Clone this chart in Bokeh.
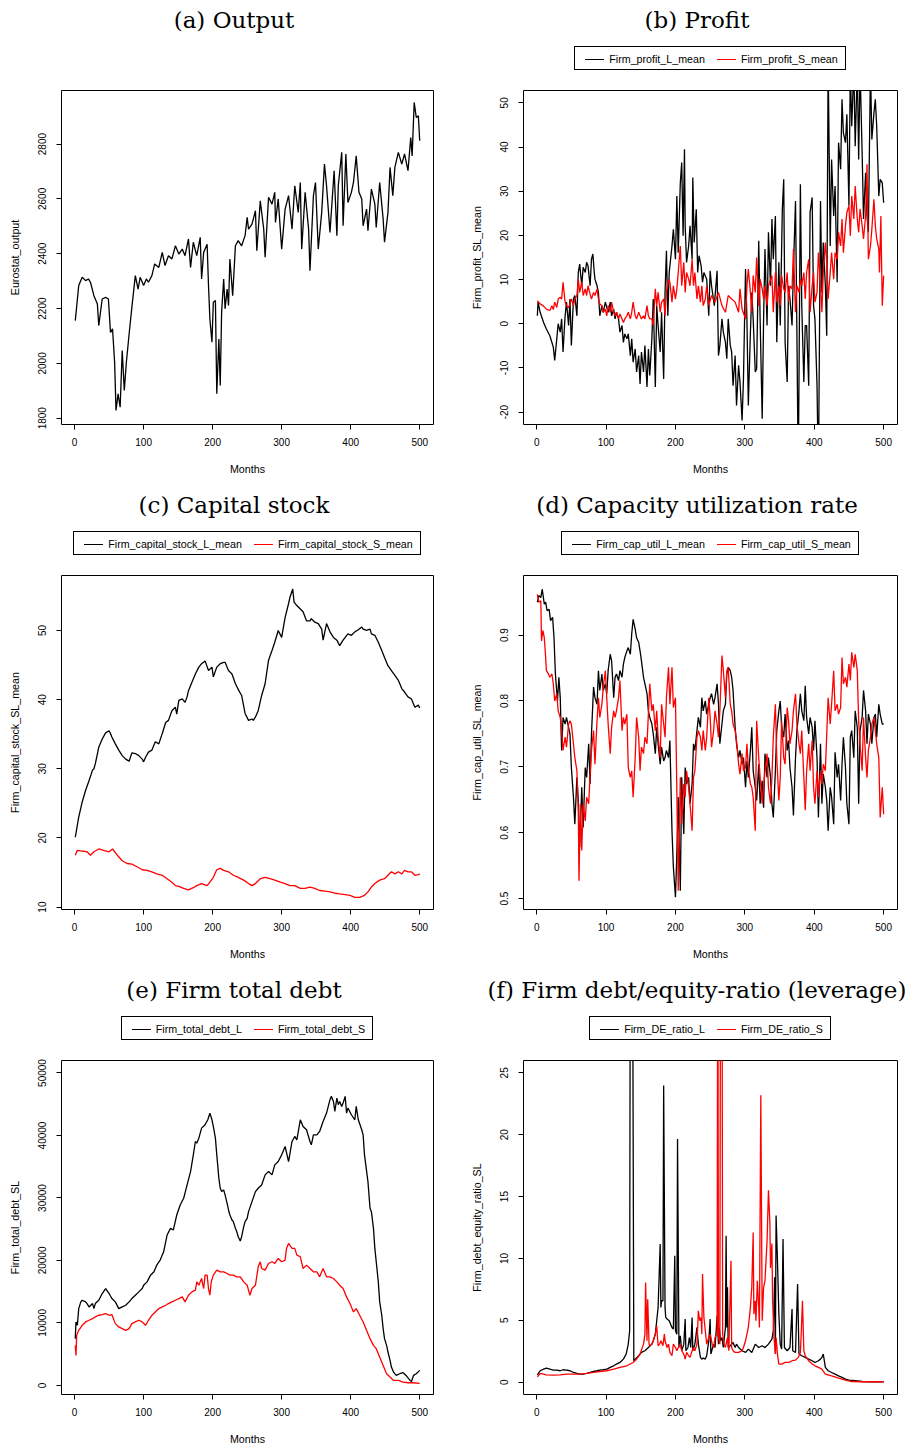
from bokeh.plotting import figure
from bokeh.layouts import row, column
from bokeh.models import Range1d, FixedTicker, NumeralTickFormatter, ColumnDataSource, Div
from bokeh.embed import file_html
from bokeh.resources import INLINE

# ---------------- data (month, value) ----------------
X_TICKS = [0, 100, 200, 300, 400, 500]

output_pts = [(1,2156),(6,2284),(11,2314),(16,2302),(20,2308),(23,2296),(28,2247),(33,2217),(35,2138),(40,2235),(45,2241),(49,2235),(52,2113),(55,2126),(58,2004),(60,1828),(63,1889),(66,1840),(69,2047),(72,1901),(75,2004),(79,2107),(83,2205),(88,2320),(92,2271),(95,2314),(100,2284),(104,2308),(107,2296),(112,2320),(116,2363),(122,2350),(127,2405),(131,2357),(136,2393),(141,2381),(146,2429),(151,2399),(156,2417),(160,2393),(165,2454),(168,2350),(172,2442),(177,2393),(182,2460),(184,2308),(187,2405),(192,2435),(194,2284),(196,2162),(199,2077),(201,2223),(204,2229),(206,1889),(209,2089),(211,1919),(213,2186),(216,2308),(218,2199),(221,2271),(223,2211),(225,2381),(229,2247),(233,2429),(237,2448),(242,2429),(247,2466),(250,2533),(252,2490),(257,2508),(262,2557),(264,2411),(269,2593),(274,2490),(276,2387),(281,2606),(286,2581),(290,2624),(291,2514),(295,2600),(300,2417),(305,2563),(310,2612),(315,2490),(319,2648),(324,2551),(327,2660),(329,2417),(334,2624),(339,2490),(341,2338),(346,2612),(349,2660),(353,2417),(358,2551),(362,2727),(365,2648),(370,2478),(376,2703),(380,2466),(382,2648),(387,2770),(389,2502),(393,2764),(396,2587),(401,2624),(404,2660),(408,2757),(412,2624),(416,2600),(418,2502),(423,2563),(425,2484),(430,2636),(435,2581),(437,2496),(442,2660),(447,2527),(449,2442),(454,2551),(457,2715),(461,2612),(464,2715),(469,2770),(474,2727),(478,2764),(483,2703),(487,2824),(489,2757),(492,2952),(495,2897),(498,2903),(500,2812)]

profit_L_pts = [(1,1.8),(2,4.9),(5,2.6),(10,0.3),(14,-1.2),(19,-2.7),(24,-5.3),(26,-8.3),(29,-3.4),(31,0.0),(34,-1.9),(36,1.1),(38,-6.4),(41,1.8),(43,4.9),(46,-0.4),(48,5.6),(50,-4.9),(53,5.6),(55,6.4),(58,1.8),(60,11.6),(62,13.5),(65,8.6),(67,12.8),(70,11.6),(72,13.9),(74,13.1),(77,8.6),(79,14.6),(81,15.8),(83,11.6),(84,10.1),(87,8.6),(89,7.1),(91,1.8),(94,4.1),(96,2.6),(99,4.9),(101,3.7),(103,2.6),(106,4.9),(108,1.8),(111,3.3),(113,1.1),(115,2.6),(118,1.1),(120,-1.9),(123,-0.4),(125,-4.2),(127,-2.3),(130,-3.4),(132,-2.3),(135,-7.2),(137,-3.4),(139,-8.7),(142,-5.7),(144,-10.9),(147,-7.2),(149,-13.6),(151,-6.4),(154,-10.9),(156,-4.9),(159,-14.3),(161,-5.7),(163,-11.7),(166,-3.4),(168,5.6),(171,-14.3),(173,4.1),(175,-0.4),(178,-6.4),(180,2.6),(183,-12.5),(185,7.1),(187,16.5),(189,1.8),(191,11.6),(195,17.6),(197,21.4),(200,14.6),(202,28.9),(204,16.1),(207,31.9),(209,36.5),(211,19.9),(213,39.5),(214,22.2),(216,13.9),(219,17.6),(221,22.2),(224,14.6),(225,33.1),(227,18.4),(230,25.9),(232,11.6),(234,15.4),(237,13.1),(239,9.4),(241,11.6),(245,10.1),(248,1.8),(250,12.0),(252,8.6),(256,4.1),(260,12.0),(262,-7.2),(264,-4.9),(267,1.1),(269,-1.9),(272,-4.2),(274,-7.9),(276,1.1),(279,-4.9),(281,-6.4),(283,-14.0),(286,-7.2),(288,-18.5),(291,-9.4),(293,-13.2),(296,-21.9),(298,-12.5),(301,12.4),(303,1.1),(305,-18.5),(308,-1.9),(310,7.1),(312,1.1),(315,-10.9),(317,-10.2),(320,18.8),(322,1.1),(325,-21.5),(327,1.1),(329,16.9),(332,-0.4),(334,20.7),(337,8.6),(339,23.7),(341,14.6),(344,24.4),(346,-4.2),(349,13.9),(351,-0.4),(354,25.9),(356,32.7),(358,-4.2),(361,-13.2),(363,8.6),(365,5.6),(368,-0.4),(370,12.4),(373,27.8),(375,-1.9),(377,-35.0),(380,31.6),(382,4.1),(385,-13.2),(387,-0.4),(389,-0.4),(392,-14.0),(394,25.2),(397,28.6),(399,4.1),(401,1.1),(404,-14.0),(406,-35.0),(409,27.8),(411,7.1),(413,18.4),(416,8.6),(418,-2.7),(420,60.0),(423,17.6),(425,37.2),(428,24.4),(430,31.2),(433,9.4),(435,41.0),(438,35.0),(440,50.8),(442,43.2),(445,41.0),(447,47.4),(450,26.7),(452,58.0),(454,44.7),(457,58.0),(459,40.2),(462,58.0),(464,37.2),(466,58.0),(469,38.7),(471,23.7),(474,34.2),(476,24.4),(478,20.7),(481,58.0),(483,41.7),(486,47.7),(488,50.8),(490,44.7),(493,28.9),(495,32.7),(498,31.9),(500,27.4)]

profit_S_pts = [(1,5.2),(5,4.5),(10,4.0),(14,3.3),(19,3.0),(22,4.1),(24,3.2),(26,4.9),(29,3.7),(31,5.6),(34,6.0),(36,5.6),(38,9.4),(41,4.9),(43,4.1),(46,3.7),(48,4.5),(50,5.6),(53,4.1),(55,5.6),(58,6.4),(60,10.1),(62,7.1),(65,9.4),(67,6.4),(70,7.9),(72,6.4),(74,8.6),(77,6.7),(79,5.6),(82,7.1),(84,6.4),(87,7.9),(89,5.6),(91,4.5),(94,4.1),(96,2.6),(99,3.3),(101,1.8),(103,4.1),(106,2.6),(108,4.9),(111,2.6),(113,1.8),(115,2.6),(118,1.1),(120,2.2),(123,1.1),(125,0.3),(127,1.1),(130,1.8),(132,2.6),(135,1.1),(137,2.6),(139,4.9),(142,1.8),(144,1.1),(147,2.6),(149,1.8),(151,1.1),(154,1.8),(156,1.1),(159,4.1),(161,1.8),(163,1.1),(166,1.1),(168,-0.4),(171,7.9),(173,4.1),(175,7.1),(178,2.6),(180,4.9),(183,5.6),(185,1.8),(187,7.1),(190,10.1),(192,9.4),(195,4.9),(197,8.6),(200,5.6),(202,7.9),(204,11.6),(207,17.6),(209,8.6),(212,13.9),(214,7.1),(216,11.6),(219,10.1),(221,8.6),(224,14.6),(226,8.6),(228,11.6),(231,5.6),(233,8.6),(236,4.9),(238,8.6),(240,4.1),(243,5.6),(245,8.6),(248,4.1),(252,6.4),(257,4.9),(262,7.1),(267,4.1),(272,2.6),(276,6.4),(281,5.6),(286,4.9),(291,2.6),(293,7.9),(296,3.3),(301,1.1),(303,8.6),(305,12.4),(308,7.1),(310,2.6),(312,10.9),(315,7.1),(317,15.0),(320,4.1),(322,10.1),(325,7.9),(327,5.6),(329,8.6),(332,4.1),(334,8.6),(339,10.9),(341,2.6),(344,11.6),(346,4.9),(349,8.6),(351,4.1),(353,10.9),(356,7.9),(358,7.1),(361,11.6),(363,4.9),(365,8.6),(368,7.9),(370,16.9),(373,2.6),(375,8.6),(378,7.1),(380,10.1),(382,8.6),(385,11.6),(387,5.6),(389,11.6),(392,14.6),(394,2.6),(397,8.6),(399,11.6),(401,4.9),(404,7.1),(406,16.1),(409,8.6),(411,2.6),(413,11.6),(416,18.4),(418,13.9),(420,5.6),(423,11.6),(425,16.1),(428,10.1),(430,16.1),(433,14.6),(435,20.7),(438,17.6),(440,23.7),(442,16.1),(445,22.2),(447,25.2),(450,26.7),(452,19.9),(454,28.9),(457,23.7),(459,31.2),(462,23.7),(464,20.7),(466,26.0),(469,22.2),(471,19.2),(474,24.4),(476,36.1),(478,14.6),(481,17.6),(483,21.4),(486,28.2),(488,22.2),(490,19.2),(493,16.9),(494,11.6),(496,24.4),(498,4.1),(500,10.9)]

capital_L_pts = [(1,20.1),(6,23.0),(11,25.2),(16,26.9),(21,28.3),(26,29.8),(28,30.0),(30,30.7),(35,33.1),(40,34.3),(45,35.2),(50,35.5),(52,35.1),(54,34.6),(59,33.6),(64,32.7),(69,31.9),(74,31.4),(79,31.1),(83,32.3),(88,32.2),(93,31.9),(98,31.4),(100,31.0),(103,31.7),(107,32.4),(112,32.7),(117,33.9),(122,33.6),(127,35.1),(132,36.7),(136,37.0),(141,38.4),(146,38.9),(148,37.9),(151,39.9),(156,40.1),(160,39.6),(163,40.4),(165,41.3),(170,42.5),(175,43.7),(180,44.7),(184,45.2),(189,45.6),(194,44.2),(199,44.7),(201,43.3),(206,44.7),(211,45.2),(216,45.4),(218,45.4),(223,44.2),(228,43.7),(233,42.3),(238,41.3),(242,40.6),(247,38.0),(252,37.0),(257,37.2),(259,37.0),(262,37.5),(266,38.4),(271,40.6),(276,42.3),(281,45.7),(286,47.1),(290,48.3),(295,50.0),(300,49.0),(305,51.9),(310,53.9),(312,54.8),(316,56.0),(318,54.1),(322,53.6),(327,53.1),(331,52.7),(336,51.4),(341,51.4),(343,51.7),(348,51.2),(353,51.0),(358,50.2),(360,48.6),(365,51.0),(370,49.8),(375,49.0),(380,48.6),(384,47.8),(389,48.6),(396,49.5),(401,49.3),(406,49.8),(411,50.1),(416,50.5),(418,50.2),(423,50.0),(428,50.2),(430,49.5),(435,49.3),(440,48.3),(445,47.1),(449,46.1),(454,44.9),(459,44.2),(464,43.5),(469,42.8),(474,41.6),(478,41.1),(483,40.4),(488,40.1),(493,38.9),(498,39.2),(500,38.8)]

capital_S_pts = [(1,17.5),(4,18.2),(11,18.1),(18,18.0),(23,17.5),(28,18.0),(35,18.4),(42,18.2),(50,18.0),(55,18.4),(62,17.5),(69,16.7),(76,16.3),(83,16.2),(91,15.8),(98,15.4),(105,15.3),(112,15.1),(119,14.8),(127,14.6),(134,14.1),(141,13.6),(146,13.1),(151,13.0),(158,12.7),(165,12.5),(172,12.8),(177,13.1),(184,13.4),(192,13.1),(196,13.6),(201,14.3),(206,15.4),(211,15.6),(216,15.3),(223,15.1),(230,14.6),(237,14.3),(245,13.9),(252,13.4),(257,13.1),(262,13.4),(269,14.1),(276,14.3),(283,14.1),(290,13.9),(298,13.6),(305,13.4),(312,13.1),(319,13.1),(327,12.7),(334,12.7),(341,12.9),(348,12.7),(355,12.4),(363,12.3),(370,12.2),(377,12.0),(384,11.9),(392,11.8),(399,11.7),(406,11.4),(413,11.4),(420,11.7),(425,12.2),(430,12.9),(435,13.4),(442,13.9),(449,14.1),(454,14.6),(459,15.1),(464,14.8),(469,15.1),(474,14.8),(478,15.3),(483,15.1),(488,15.1),(493,14.6),(498,14.7),(500,14.8)]

caputil_L_pts = [(1,0.950),(3,0.960),(6,0.957),(8,0.970),(11,0.947),(13,0.950),(15,0.937),(18,0.939),(20,0.922),(23,0.927),(25,0.896),(27,0.841),(30,0.800),(32,0.836),(34,0.805),(36,0.725),(38,0.775),(41,0.765),(43,0.775),(46,0.760),(48,0.750),(50,0.699),(53,0.654),(55,0.613),(58,0.684),(60,0.649),(62,0.578),(65,0.669),(67,0.608),(70,0.699),(72,0.684),(75,0.735),(77,0.674),(79,0.750),(82,0.821),(84,0.805),(87,0.795),(89,0.846),(91,0.816),(94,0.841),(96,0.816),(99,0.826),(101,0.811),(103,0.846),(106,0.871),(108,0.861),(111,0.805),(113,0.836),(115,0.841),(118,0.831),(120,0.846),(123,0.836),(125,0.856),(127,0.866),(130,0.876),(132,0.881),(135,0.871),(137,0.902),(139,0.924),(142,0.909),(144,0.896),(147,0.889),(149,0.876),(151,0.861),(154,0.836),(156,0.826),(159,0.811),(161,0.785),(163,0.775),(166,0.765),(168,0.750),(171,0.720),(173,0.760),(175,0.735),(178,0.704),(180,0.730),(183,0.709),(185,0.714),(187,0.725),(190,0.714),(192,0.740),(195,0.603),(197,0.548),(200,0.502),(202,0.568),(204,0.654),(207,0.512),(209,0.684),(212,0.598),(214,0.699),(216,0.674),(219,0.684),(221,0.644),(224,0.674),(226,0.735),(228,0.725),(231,0.755),(233,0.775),(236,0.760),(238,0.805),(240,0.785),(243,0.800),(245,0.780),(248,0.795),(250,0.805),(252,0.811),(255,0.795),(257,0.805),(260,0.826),(262,0.795),(264,0.735),(267,0.765),(269,0.785),(272,0.795),(274,0.841),(276,0.851),(279,0.846),(281,0.836),(283,0.816),(286,0.760),(288,0.735),(291,0.714),(293,0.725),(296,0.704),(298,0.714),(301,0.669),(303,0.709),(305,0.684),(308,0.725),(310,0.760),(312,0.694),(315,0.669),(317,0.649),(320,0.704),(322,0.644),(325,0.679),(327,0.638),(329,0.720),(332,0.684),(334,0.714),(337,0.684),(339,0.644),(341,0.623),(344,0.694),(346,0.755),(349,0.785),(351,0.800),(353,0.760),(356,0.745),(358,0.780),(361,0.725),(363,0.740),(365,0.699),(368,0.669),(370,0.626),(373,0.714),(375,0.755),(378,0.785),(380,0.811),(382,0.785),(385,0.770),(387,0.823),(389,0.775),(392,0.750),(394,0.775),(397,0.760),(399,0.725),(401,0.770),(404,0.714),(406,0.623),(409,0.735),(411,0.644),(413,0.689),(416,0.669),(418,0.649),(420,0.603),(423,0.669),(425,0.654),(428,0.613),(430,0.722),(433,0.684),(435,0.704),(438,0.649),(440,0.704),(442,0.745),(445,0.699),(447,0.644),(450,0.613),(452,0.745),(454,0.755),(457,0.714),(459,0.785),(462,0.760),(464,0.644),(466,0.755),(469,0.775),(471,0.816),(474,0.785),(476,0.735),(478,0.780),(481,0.765),(483,0.735),(486,0.775),(488,0.780),(490,0.745),(493,0.795),(495,0.780),(498,0.765),(500,0.765)]

caputil_S_pts = [(1,0.962),(3,0.950),(6,0.952),(7,0.891),(9,0.907),(11,0.896),(13,0.866),(14,0.846),(17,0.841),(19,0.836),(22,0.841),(24,0.826),(26,0.800),(29,0.811),(31,0.785),(34,0.775),(36,0.755),(38,0.725),(41,0.745),(43,0.730),(46,0.765),(48,0.770),(50,0.765),(53,0.735),(55,0.714),(58,0.694),(60,0.634),(61,0.527),(63,0.644),(65,0.573),(67,0.644),(70,0.618),(72,0.654),(75,0.644),(77,0.689),(79,0.725),(82,0.755),(84,0.704),(87,0.770),(89,0.805),(91,0.775),(94,0.795),(96,0.821),(99,0.846),(101,0.805),(103,0.765),(106,0.720),(108,0.760),(111,0.785),(113,0.775),(115,0.785),(118,0.805),(120,0.831),(123,0.755),(125,0.775),(127,0.765),(130,0.780),(132,0.699),(135,0.684),(137,0.694),(139,0.654),(142,0.714),(144,0.775),(147,0.745),(149,0.694),(151,0.730),(154,0.720),(156,0.745),(159,0.735),(161,0.780),(163,0.826),(166,0.785),(168,0.795),(171,0.755),(173,0.785),(175,0.745),(178,0.714),(180,0.795),(183,0.765),(185,0.745),(187,0.805),(190,0.851),(192,0.795),(195,0.851),(197,0.790),(200,0.805),(202,0.664),(204,0.512),(207,0.684),(209,0.613),(212,0.674),(214,0.654),(216,0.694),(219,0.669),(221,0.644),(224,0.603),(226,0.684),(228,0.694),(231,0.745),(233,0.755),(236,0.745),(238,0.725),(240,0.755),(243,0.725),(245,0.745),(248,0.805),(250,0.775),(252,0.730),(255,0.755),(257,0.785),(260,0.765),(262,0.745),(264,0.785),(267,0.869),(269,0.846),(272,0.805),(274,0.846),(276,0.851),(279,0.795),(281,0.785),(283,0.765),(286,0.755),(288,0.740),(291,0.704),(293,0.689),(296,0.720),(298,0.694),(301,0.699),(303,0.735),(305,0.699),(308,0.674),(310,0.669),(312,0.654),(315,0.603),(317,0.770),(320,0.714),(322,0.684),(325,0.644),(327,0.669),(329,0.694),(332,0.720),(334,0.669),(337,0.644),(339,0.684),(341,0.745),(344,0.795),(346,0.714),(349,0.649),(351,0.684),(353,0.770),(356,0.714),(358,0.704),(361,0.790),(363,0.770),(365,0.735),(368,0.755),(370,0.785),(373,0.811),(375,0.765),(378,0.735),(380,0.720),(382,0.755),(385,0.684),(387,0.634),(389,0.694),(392,0.735),(394,0.694),(397,0.740),(399,0.669),(401,0.644),(404,0.694),(406,0.654),(409,0.694),(411,0.674),(413,0.704),(416,0.694),(418,0.750),(420,0.805),(423,0.765),(425,0.795),(428,0.846),(430,0.785),(433,0.795),(435,0.780),(438,0.790),(440,0.866),(442,0.826),(445,0.836),(447,0.821),(450,0.856),(452,0.831),(454,0.874),(457,0.851),(459,0.871),(462,0.846),(464,0.770),(466,0.735),(469,0.694),(471,0.775),(474,0.714),(476,0.684),(478,0.725),(481,0.745),(483,0.765),(486,0.775),(488,0.755),(490,0.735),(493,0.714),(495,0.623),(498,0.669),(500,0.628)]

debt_L_pts = [(1,7487),(2,10161),(4,9626),(6,12300),(9,13370),(11,13637),(16,13370),(18,13102),(21,12567),(26,13102),(28,12300),(30,13102),(35,13637),(40,14707),(45,15509),(50,14707),(54,13905),(59,13370),(64,12300),(69,12567),(74,12835),(79,13370),(83,13905),(88,14440),(93,14974),(98,15509),(100,16044),(105,16578),(110,17648),(115,18183),(119,19253),(124,20055),(129,21392),(134,24066),(139,25136),(143,24868),(148,27275),(153,28879),(158,29949),(163,32088),(168,34227),(172,36901),(175,39040),(177,38773),(180,39575),(184,41180),(189,41714),(193,42517),(196,43586),(199,42517),(201,41447),(204,39575),(206,36901),(209,33158),(211,31553),(213,31018),(216,31286),(218,30484),(221,29147),(223,28077),(225,27275),(228,26473),(230,26205),(233,25136),(235,24601),(237,23799),(240,23104),(242,23799),(245,25403),(247,26205),(250,26740),(252,27810),(257,29414),(262,31018),(266,31553),(271,32088),(276,33692),(281,34227),(286,33692),(290,35297),(295,35832),(300,36901),(305,38238),(310,35832),(315,39040),(319,39843),(322,39308),(327,42517),(331,41447),(336,40912),(341,39040),(343,38505),(346,40110),(351,40110),(355,40645),(360,42249),(365,43586),(370,45725),(372,46260),(375,45458),(377,43854),(380,45993),(382,44923),(384,45458),(387,44656),(389,45191),(392,46260),(394,43586),(396,44388),(401,43319),(406,42517),(408,44656),(411,42517),(416,40912),(418,40110),(420,36901),(425,32623),(428,28344),(430,27810),(433,25136),(435,21927),(437,19788),(440,16578),(442,13370),(445,11231),(447,9092),(449,7487),(452,6418),(454,5348),(457,4011),(459,2941),(462,2139),(466,1604),(471,1872),(476,2032),(481,1497),(486,802),(488,642),(491,1604),(495,1872),(500,2407)]

debt_S_pts = [(1,6418),(2,4813),(3,8022),(6,8824),(11,9626),(16,10161),(21,10429),(26,10696),(30,10963),(35,11231),(40,11338),(45,11498),(50,11231),(54,11338),(59,9894),(64,9359),(69,9092),(74,8824),(79,9092),(83,9894),(88,10161),(93,10429),(98,10161),(103,9626),(107,10429),(112,11231),(117,11766),(122,12300),(127,12567),(132,12835),(136,13102),(141,13370),(146,13637),(151,13905),(156,14172),(160,13370),(165,14440),(170,14974),(175,15242),(177,16578),(180,16044),(184,17113),(187,15509),(189,17648),(192,17648),(194,15509),(196,14440),(198,16578),(201,17648),(206,18450),(211,18183),(216,18183),(221,17915),(225,17648),(230,17648),(235,17381),(240,17381),(245,16578),(250,16044),(254,14440),(257,15509),(262,16044),(266,18985),(269,19788),(271,18718),(276,18450),(281,19520),(286,19788),(290,19520),(295,20322),(300,19788),(305,20055),(307,21927),(310,22729),(315,21927),(319,21927),(322,20857),(327,20590),(331,18718),(336,19253),(341,18718),(346,18183),(351,18183),(355,17381),(360,18718),(365,17381),(370,17381),(375,17113),(380,16578),(384,16044),(389,15509),(394,14172),(399,13102),(404,11766),(408,12300),(413,11231),(418,10161),(423,8824),(428,7487),(433,6418),(437,5883),(442,4546),(447,3209),(452,1872),(457,1337),(462,802),(469,802),(476,535),(483,428),(491,428),(500,321)]

de_L_pts = [(1,0.59),(5,0.92),(10,1.05),(14,1.13),(19,1.05),(24,0.97),(29,0.97),(34,0.92),(38,1.0),(43,0.97),(48,0.92),(53,0.78),(58,0.70),(62,0.65),(67,0.65),(72,0.70),(77,0.78),(82,0.86),(87,0.92),(91,0.97),(96,1.0),(101,1.05),(106,1.19),(111,1.32),(115,1.46),(120,1.59),(125,1.86),(129,2.27),(132,3.07),(134,4.15),(135,40.0),(138,40.0),(140,1.73),(142,1.86),(147,2.13),(151,2.40),(156,2.54),(161,2.80),(166,3.07),(168,3.34),(171,3.88),(173,4.96),(175,6.04),(178,11.17),(179,6.04),(180,6.58),(182,6.58),(183,23.98),(185,6.04),(186,5.23),(188,5.10),(191,4.96),(195,4.42),(197,4.29),(199,10.22),(200,4.15),(202,3.88),(203,19.66),(205,2.80),(207,3.75),(209,2.54),(212,3.07),(214,5.10),(215,2.54),(218,2.80),(220,3.61),(222,2.80),(224,5.23),(225,2.54),(228,3.07),(231,4.42),(233,3.07),(236,2.00),(238,1.86),(240,1.94),(243,1.86),(245,2.13),(248,3.34),(250,5.10),(251,2.27),(255,3.07),(257,2.80),(259,4.42),(260,5.37),(262,3.07),(263,4.42),(265,3.34),(267,3.61),(269,2.80),(272,4.42),(273,11.84),(274,4.42),(275,7.66),(276,2.80),(279,2.94),(281,3.07),(283,3.21),(286,2.80),(288,3.07),(291,2.80),(296,2.54),(301,2.40),(305,2.67),(310,2.40),(315,3.07),(320,2.80),(325,2.94),(329,2.80),(334,3.07),(339,3.48),(341,4.15),(343,8.47),(344,2.27),(345,13.46),(347,9.82),(349,5.50),(351,3.07),(353,2.67),(355,11.57),(357,2.80),(361,2.54),(365,2.80),(368,5.91),(369,2.54),(373,2.40),(376,7.93),(378,2.27),(382,2.13),(387,2.00),(392,1.86),(397,1.73),(401,1.59),(406,1.73),(409,1.86),(411,2.00),(413,2.27),(416,1.19),(420,0.92),(425,0.78),(430,0.65),(435,0.51),(440,0.38),(445,0.24),(450,0.16),(459,0.11),(469,0.05),(483,0.03),(500,0.03)]

de_S_pts = [(1,0.43),(5,0.70),(10,0.65),(14,0.59),(24,0.57),(34,0.59),(43,0.65),(53,0.65),(62,0.65),(72,0.70),(82,0.78),(91,0.86),(101,0.92),(111,1.05),(120,1.19),(130,1.32),(139,1.59),(144,1.86),(149,2.27),(154,3.07),(156,3.88),(157,8.06),(159,3.34),(160,6.70),(162,3.07),(163,2.94),(166,3.07),(168,3.34),(171,3.88),(173,4.56),(175,2.94),(177,3.07),(179,3.34),(182,2.94),(184,3.88),(185,3.34),(188,2.80),(190,3.07),(192,2.40),(195,2.13),(197,3.07),(200,2.80),(202,2.54),(204,2.80),(207,3.07),(209,2.54),(212,2.27),(214,1.86),(216,2.40),(219,2.13),(221,2.00),(224,2.54),(226,2.80),(228,2.54),(231,3.07),(233,5.77),(235,4.96),(237,5.23),(238,3.88),(239,8.74),(241,5.23),(243,4.15),(245,3.07),(248,3.61),(250,3.88),(253,3.07),(255,2.80),(257,3.61),(260,3.88),(261,40.0),(262,3.61),(264,3.07),(265,40.0),(267,40.0),(268,3.88),(270,3.07),(272,2.80),(275,3.61),(277,2.54),(280,9.82),(281,2.80),(283,2.54),(286,2.40),(291,2.40),(296,2.54),(298,2.80),(301,3.34),(303,3.88),(305,4.42),(308,6.04),(310,7.66),(312,12.1),(313,5.50),(315,6.58),(316,4.96),(318,8.20),(320,6.04),(321,4.42),(323,23.2),(325,4.96),(327,7.66),(329,8.20),(332,11.4),(334,15.5),(336,13.0),(337,9.22),(339,11.2),(340,6.58),(342,3.61),(344,2.27),(345,3.61),(347,2.27),(349,1.46),(353,1.46),(358,1.59),(363,1.59),(368,1.73),(373,1.78),(377,2.00),(380,2.40),(381,3.61),(383,6.58),(385,2.54),(387,2.13),(392,1.73),(397,1.46),(401,1.32),(406,1.19),(411,1.05),(416,0.65),(425,0.51),(435,0.32),(445,0.16),(454,0.05),(469,0.03),(500,0.03)]

# ---------------- layout / style ----------------
X_RANGE = (-18.96, 519.96)
FONT = "Liberation Sans"
SERIF = "DejaVu Serif"
LW = 1.3
FRAME_H = 334
COLORS = ["black", "red"]
COLS = [dict(w=462, fw=372, bl=61, br=29, tc=234), dict(w=450, fw=374, bl=61, br=15, tc=235)]
TITLE_H = 40
LEGEND_H = 45
TOP_B = 5


def src(pts):
    return ColumnDataSource(data=dict(x=[p[0] for p in pts], y=[p[1] for p in pts]))


def title_div(text, c):
    pad = 2 * (c["tc"] - c["w"] / 2)
    html = ('<div style="box-sizing:border-box;width:%dpx;height:%dpx;line-height:%dpx;padding-left:%dpx;'
            'text-align:center;white-space:nowrap;font-family:\'%s\';font-size:23px;color:#000;">%s</div>'
            % (c["w"], TITLE_H, TITLE_H, pad, SERIF, text))
    return Div(text=html, width=c["w"], height=TITLE_H, margin=0)


def legend_div(names, c):
    if not names:
        return Div(text="", width=c["w"], height=LEGEND_H, margin=0)
    parts = []
    for i, nm in enumerate(names):
        ml = 0 if i == 0 else 12
        parts.append('<span style="display:inline-block;width:19px;height:1px;background-color:%s;'
                     'vertical-align:3px;margin-left:%dpx;margin-right:5px;"></span>%s' % (COLORS[i], ml, nm))
    box = ('<div style="display:inline-block;border:1px solid #000;height:24px;line-height:24px;'
           'padding:0 7px 0 10px;font-family:\'%s\';font-size:10.7px;color:#000;white-space:nowrap;">%s</div>'
           % (FONT, "".join(parts)))
    html = ('<div style="margin-left:%dpx;width:%dpx;text-align:center;padding-top:6px;">%s</div>'
            % (c["bl"], c["fw"], box))
    return Div(text=html, width=c["w"], height=LEGEND_H, margin=0)


def panel(title, ylabel, yr, yticks, yfmt, series, col, bottom, names=None):
    c = COLS[col]
    p = figure(frame_width=c["fw"], frame_height=FRAME_H, title_location=None,
               x_range=Range1d(*X_RANGE), y_range=Range1d(*yr),
               output_backend="svg", toolbar_location=None,
               min_border_left=c["bl"], min_border_right=c["br"], min_border_top=TOP_B, min_border_bottom=bottom)
    p.grid.visible = False
    p.outline_line_color = "black"
    p.outline_line_width = 1
    p.background_fill_color = "white"
    p.border_fill_color = "white"

    p.xaxis.ticker = FixedTicker(ticks=X_TICKS)
    p.yaxis.ticker = FixedTicker(ticks=yticks)
    p.xaxis.formatter = NumeralTickFormatter(format="0")
    p.yaxis.formatter = NumeralTickFormatter(format=yfmt)
    p.xaxis.axis_label = "Months"
    p.yaxis.axis_label = ylabel
    p.yaxis.major_label_orientation = "vertical"
    for ax in (p.xaxis[0], p.yaxis[0]):
        ax.axis_line_color = None
        ax.major_tick_line_color = "black"
        ax.major_tick_out = 5
        ax.major_tick_in = 0
        ax.minor_tick_line_color = None
        ax.major_label_text_font = FONT
        ax.major_label_text_font_size = "10px"
        ax.major_label_text_color = "black"
        ax.axis_label_text_font = FONT
        ax.axis_label_text_font_size = "10.7px"
        ax.axis_label_text_font_style = "normal"
        ax.axis_label_text_color = "black"
    p.xaxis.major_label_standoff = 8
    p.yaxis.major_label_standoff = 10
    p.yaxis.axis_label_standoff = 15
    p.xaxis.axis_label_standoff = 14

    for i, pts in enumerate(series):
        p.line("x", "y", source=src(pts), line_color=COLORS[i], line_width=LW)

    return column(title_div(title, c), legend_div(names, c), p, spacing=0)


pa = panel("(a) Output", "Eurostat_output", (1777, 2995.6), [1800, 2000, 2200, 2400, 2600, 2800], "0",
           [output_pts], 0, 61)
pb = panel("(b) Profit", "Firm_profit_SL_mean", (-22.8, 52.8), [-20, -10, 0, 10, 20, 30, 40, 50], "0",
           [profit_L_pts, profit_S_pts], 1, 61, ["Firm_profit_L_mean", "Firm_profit_S_mean"])
pc = panel("(c) Capital stock", "Firm_capital_stock_SL_mean", (9.65, 57.95), [10, 20, 30, 40, 50], "0",
           [capital_L_pts, capital_S_pts], 0, 61, ["Firm_capital_stock_L_mean", "Firm_capital_stock_S_mean"])
pd_ = panel("(d) Capacity utilization rate", "Firm_cap_util_SL_mean", (0.4834, 0.9905), [0.5, 0.6, 0.7, 0.8, 0.9], "0.0",
            [caputil_L_pts, caputil_S_pts], 1, 61, ["Firm_cap_util_L_mean", "Firm_cap_util_S_mean"])
pe = panel("(e) Firm total debt", "Firm_total_debt_SL", (-1450, 52000), [0, 10000, 20000, 30000, 40000, 50000], "0",
           [debt_L_pts, debt_S_pts], 0, 56, ["Firm_total_debt_L", "Firm_total_debt_S"])
pf = panel("(f) Firm debt/equity-ratio (leverage)", "Firm_debt_equity_ratio_SL", (-1.0, 26.0), [0, 5, 10, 15, 20, 25], "0",
           [de_L_pts, de_S_pts], 1, 56, ["Firm_DE_ratio_L", "Firm_DE_ratio_S"])

layout = column(row(pa, pb, spacing=0), row(pc, pd_, spacing=0), row(pe, pf, spacing=0), spacing=0)
open("out.html", "w").write(file_html(layout, INLINE))
